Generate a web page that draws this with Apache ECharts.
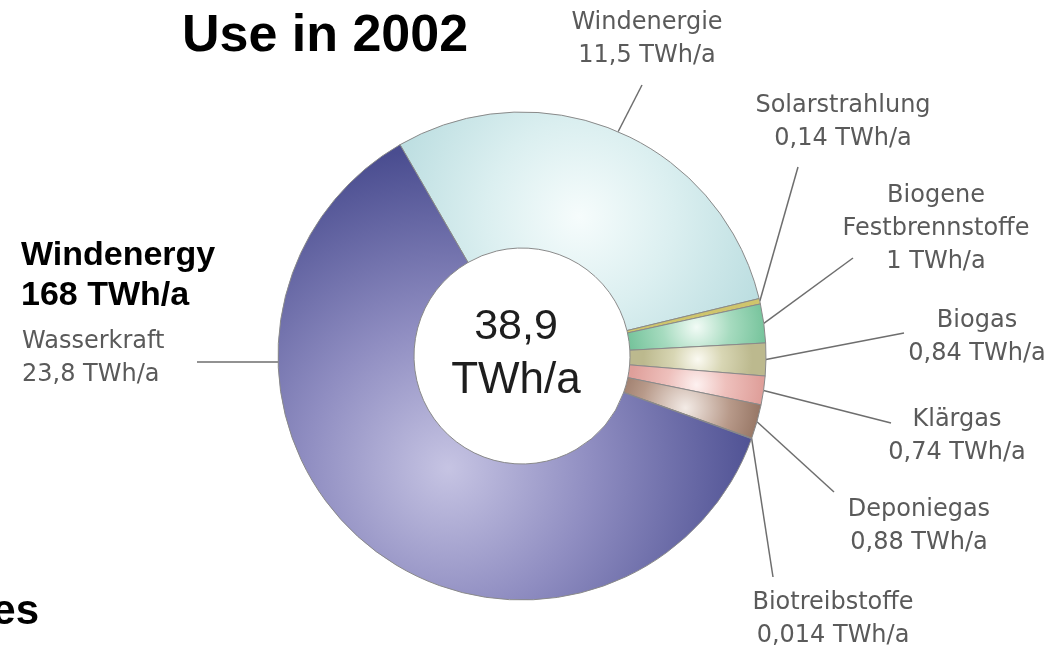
<!DOCTYPE html>
<html><head><meta charset="utf-8">
<script src="https://cdn.jsdelivr.net/npm/echarts@6/dist/echarts.min.js"></script>
<style>html,body{margin:0;padding:0;background:#fff}#c{width:1064px;height:648px}</style>
</head><body><div id="c"></div>
<script>
// ---- data ----
const categories = ['Windenergie', 'Solarstrahlung', 'Biogene Festbrennstoffe', 'Biogas', 'Klärgas', 'Deponiegas', 'Biotreibstoffe', 'Wasserkraft'];
const values = [11.5, 0.14, 1, 0.84, 0.74, 0.88, 0.014, 23.8];
const unit = 'TWh/a';
const totalLines = ['38,9', 'TWh/a'];
const titleText = 'Use in 2002';
const sideTitleLines = ['Windenergy', '168 TWh/a'];
const cutText = 'es';

// ---- styles / layout (not data) ----
const SANS = '"Liberation Sans", Arial, sans-serif';
const LABEL_FONT = '"DejaVu Sans", sans-serif';
function radial(x, y, r, stops) {
  return new echarts.graphic.RadialGradient(x, y, r, stops.map((c) => ({ offset: c[0], color: c[1] })));
}
const sliceColors = [
  radial(0.5, 0.48, 0.95, [[0, '#f6fcfc'], [0.45, '#dbeff0'], [1, '#b7dbde']]),
  '#cfc56c',
  radial(0.5, 0.5, 1.6, [[0, '#f2fbf6'], [0.45, '#a6dbbf'], [1, '#6dbf95']]),
  radial(0.5, 0.5, 1.6, [[0, '#fbfaf2'], [0.45, '#d8d6b4'], [1, '#bcb98e']]),
  radial(0.5, 0.5, 1.6, [[0, '#fdf1f0'], [0.45, '#eec0bc'], [1, '#df9f9a']]),
  radial(0.45, 0.5, 1.6, [[0, '#f3ebe6'], [0.45, '#b89a8a'], [1, '#7d5a48']]),
  '#5e4a40',
  radial(0.36, 0.71, 0.7, [[0, '#c6c4e3'], [0.45, '#8f8dc1'], [1, '#4a4d90']])
];
// label centre positions [x, y, align] and leader-line end points
const labelPos = [[647, 39, 'center'], [843, 122, 'center'], [936, 229, 'center'], [977, 337, 'center'],
                  [957, 436, 'center'], [919, 526, 'center'], [833, 619, 'center'], [22, 358, 'left']];
const lineEnd = [[642, 85], [798, 167], [853, 258], [904, 333], [891, 423], [834, 492], [773, 577], [197, 362]];

function fmt(v) { return String(v).replace('.', ','); }

const chart = echarts.init(document.getElementById('c'), null, { renderer: 'canvas' });
chart.setOption({
  animation: false,
  backgroundColor: '#ffffff',
  series: [{
    type: 'pie',
    center: [522, 356],
    radius: [108, 244],
    startAngle: 120,
    clockwise: true,
    avoidLabelOverlap: false,
    silent: true,
    itemStyle: { borderColor: '#8a8a8a', borderWidth: 1 },
    label: {
      show: true,
      position: 'outside',
      color: '#5a5a5a',
      fontFamily: LABEL_FONT,
      fontSize: 24,
      lineHeight: 33,
      align: 'center',
      formatter: p => p.name.split(' ').join('\n') + '\n' + fmt(p.value) + ' ' + unit
    },
    labelLine: { show: true, length: 10, length2: 10, lineStyle: { color: '#6e6e6e', width: 1.5 } },
    labelLayout: function (params) {
      const i = params.dataIndex;
      const p = labelPos[i];
      const pts = params.labelLinePoints;
      let start = pts ? pts[0].slice() : [0, 0];
      if (i === categories.length - 1) {
        start = [params.rect.x + 24, lineEnd[i][1]];
      }
      return {
        x: p[0], y: p[1], align: p[2], verticalAlign: 'middle',
        labelLinePoints: [start, lineEnd[i]]
      };
    },
    data: categories.map((n, i) => ({ name: n, value: values[i], itemStyle: { color: sliceColors[i] } }))
  }],
  graphic: [
    { type: 'text', x: 325, y: 37, style: { text: titleText, font: 'bold 52px ' + SANS, fill: '#000', align: 'center', verticalAlign: 'middle' } },
    { type: 'text', x: 21, y: 256, style: { text: sideTitleLines[0], font: 'bold 34px ' + SANS, fill: '#000', align: 'left', verticalAlign: 'middle' } },
    { type: 'text', x: 21, y: 296, style: { text: sideTitleLines[1], font: 'bold 34px ' + SANS, fill: '#000', align: 'left', verticalAlign: 'middle' } },
    { type: 'text', x: 516, y: 327, style: { text: totalLines[0], font: '43px ' + SANS, fill: '#1e1e1e', align: 'center', verticalAlign: 'middle' } },
    { type: 'text', x: 516, y: 381, style: { text: totalLines[1], font: '44px ' + SANS, fill: '#1e1e1e', align: 'center', verticalAlign: 'middle' } },
    { type: 'text', x: 39, y: 612, style: { text: cutText, font: 'bold 42px ' + SANS, fill: '#000', align: 'right', verticalAlign: 'middle' } }
  ]
});
</script>
</body></html>
